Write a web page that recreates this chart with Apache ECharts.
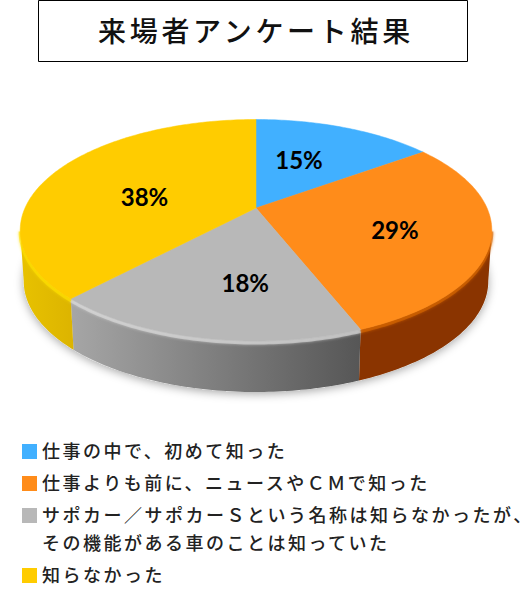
<!DOCTYPE html>
<html lang="ja">
<head>
<meta charset="utf-8">
<style>
html,body{margin:0;padding:0;background:#fff}
#c{width:520px;height:610px}
svg text[style*="18px"]{letter-spacing:2.5px}
svg text[style*="28px"]{letter-spacing:3.7px}
</style>
<script src="https://cdn.jsdelivr.net/npm/echarts@6/dist/echarts.min.js"></script>
</head>
<body>
<div id="c"></div>
<script>
const titleText = '来場者アンケート結果';
const categories = [
  '仕事の中で、初めて知った',
  '仕事よりも前に、ニュースやＣＭで知った',
  'サポカー／サポカーＳという名称は知らなかったが、\nその機能がある車のことは知っていた',
  '知らなかった'
];
const values = [15, 29, 18, 38];
const topColors = ['#41b0ff', '#ff8c1a', '#b8b8b8', '#ffcc00'];
const sideColors = [
  ['#2a7fc0', '#2a7fc0'],
  ['#8a3400', '#8a3400'],
  ['#a6a6a6', '#565656'],
  ['#dcb400', '#e8c200']
];
const rimColors = ['#41b0ff', '#d86800', '#dcdcdc', '#ffe000'];
const labelNudge = [[-9.5, -1], [13, 5], [16, 10], [2, 9]];
const legendRowY = [444, 476, 508, 568];

// perspective projection of the round pie
const CX = 256, K = -0.2009, A = 64.5, B = 208, S = 231, DEPTH = 51, SHRINK = 0.985, EDGE = 1.77;
function proj(theta, r) {
  const u = Math.sin(theta) * r, v = -Math.cos(theta) * r, d = 1 + K * v;
  return [CX + S * u / d, (A * v + B) / d];
}
function under(p) { return [CX + (p[0] - CX) * SHRINK, p[1] + DEPTH]; }
const total = values.reduce((a, b) => a + b, 0);
function sliceAngles(i) {
  let c = 0;
  for (let k = 0; k < i; k++) c += values[k];
  return [c / total * 2 * Math.PI, (c + values[i]) / total * 2 * Math.PI];
}
function arc(a0, a1) {
  const pts = [], n = Math.max(2, Math.ceil((a1 - a0) * 60));
  for (let j = 0; j <= n; j++) pts.push(proj(a0 + (a1 - a0) * j / n, 1));
  return pts;
}

function renderShadow() {
  const pts = arc(0, 2 * Math.PI).map(under);
  return { type: 'polygon', shape: { points: pts }, silent: true,
    style: { fill: '#e8e8e8', shadowBlur: 10, shadowColor: 'rgba(0,0,0,0.35)', shadowOffsetY: 2 } };
}
function renderSide(params) {
  const i = params.dataIndex;
  const [a0, a1] = sliceAngles(i);
  const s = Math.max(a0, EDGE), e = Math.min(a1, 2 * Math.PI - EDGE);
  if (e <= s) return { type: 'group', children: [] };
  const top = arc(s, e), bot = top.map(under).reverse();
  return {
    type: 'group',
    children: [
      { type: 'polygon', shape: { points: top.concat(bot) }, silent: true,
        style: { fill: new echarts.graphic.LinearGradient(0, 0, 1, 0, [
          { offset: 0, color: sideColors[i][a0 > Math.PI ? 1 : 0] },
          { offset: 1, color: sideColors[i][a0 > Math.PI ? 0 : 1] }]) } }
    ]
  };
}
function renderTop(params) {
  const i = params.dataIndex;
  const [a0, a1] = sliceAngles(i);
  const pts = [proj(0, 0)].concat(arc(a0, a1));
  const mid = (a0 + a1) / 2, lp = proj(mid, 0.55);
  const children = [];
  const s = Math.max(a0, EDGE), e = Math.min(a1, 2 * Math.PI - EDGE);
  if (e > s) {
    children.push({ type: 'polyline', z2: 0, shape: { points: arc(s, e).map(p => [CX + (p[0] - CX) * 0.998, p[1] + 1.5]) }, silent: true,
      style: { fill: 'none', stroke: rimColors[i], lineWidth: 4, opacity: 0.6, shadowBlur: 3, shadowColor: rimColors[i] } });
  }
  children.push({ type: 'polygon', z2: 1, shape: { points: pts }, silent: true,
    style: { fill: topColors[i], stroke: topColors[i], lineWidth: 0.5 } });
  children.push({ type: 'text', z2: 5, silent: true,
    style: { x: lp[0] + labelNudge[i][0], y: lp[1] + labelNudge[i][1], text: values[i] + '%', fill: '#000',
      font: 'bold 24px Lato, Carlito, sans-serif', textAlign: 'center', textVerticalAlign: 'middle' } });
  return { type: 'group', children };
}

const legendGraphics = [];
categories.forEach((name, i) => {
  legendGraphics.push({ type: 'rect', left: 22, top: legendRowY[i], shape: { width: 15, height: 15 }, style: { fill: topColors[i] } });
  legendGraphics.push({ type: 'text', left: 42, top: legendRowY[i] - 8, style: { text: name, fill: '#222',
    font: '500 18px "Noto Sans CJK JP", sans-serif', lineHeight: 28 } });
});

const chart = echarts.init(document.getElementById('c'), null, { renderer: 'svg', width: 520, height: 610 });
chart.setOption({
  animation: false,
  backgroundColor: '#fff',
  graphic: [
    { type: 'rect', left: 38, top: 0, shape: { x: 0, y: 0, width: 429, height: 61 }, style: { fill: '#fff', stroke: '#000', lineWidth: 1 } },
    { type: 'text', left: 98, top: 16, style: { text: titleText, fill: '#111', font: '500 28px "Noto Sans CJK JP", sans-serif' } }
  ].concat(legendGraphics),
  series: [
    { type: 'custom', coordinateSystem: 'none', z: 1, data: [0], renderItem: renderShadow, silent: true },
    { type: 'custom', coordinateSystem: 'none', z: 2, data: values, renderItem: renderSide, silent: true },
    { type: 'custom', coordinateSystem: 'none', z: 3, data: values, renderItem: renderTop, silent: true }
  ]
});
</script>
</body>
</html>
